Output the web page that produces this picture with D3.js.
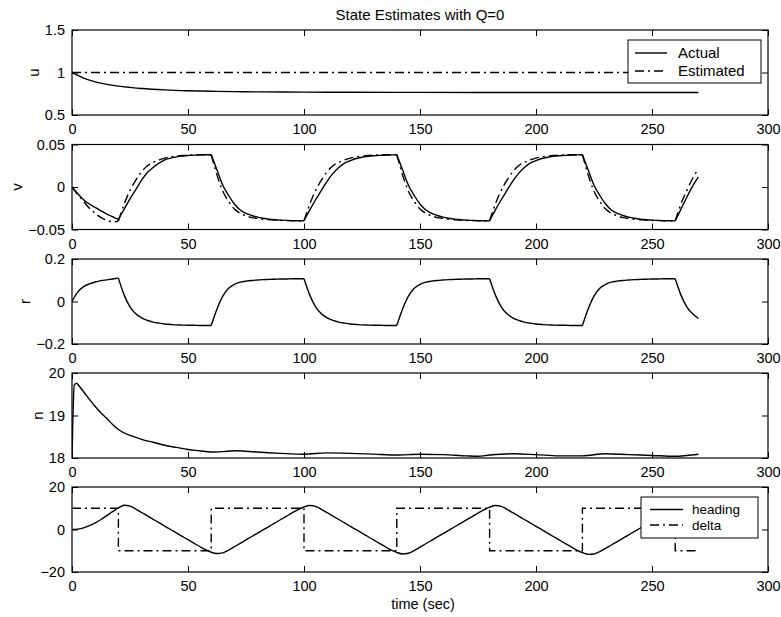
<!DOCTYPE html>
<html><head><meta charset="utf-8">
<script src="https://cdn.jsdelivr.net/npm/d3@7"></script>
<style>
body{margin:0;background:#fff}
svg{display:block}
text{font-family:"Liberation Sans",Arial,Helvetica,sans-serif;fill:#000}
</style>
</head><body>
<svg id="c" width="781" height="617"></svg>
<script>
// ---------------- DATA ----------------
const title = "State Estimates with Q=0";
const xLabel = "time (sec)";
const xTicks = [0, 50, 100, 150, 200, 250, 300];
const switchTimes = [20, 60, 100, 140, 180, 220, 260];

const timeGrid = [0,2.5,5,7.5,10,12.5,15,17.5,20,22.5,25,27.5,30,32.5,35,37.5,40,42.5,45,47.5,50,52.5,55,57.5,60,62.5,65,67.5,70,72.5,75,77.5,80,82.5,85,87.5,90,92.5,95,97.5,100,102.5,105,107.5,110,112.5,115,117.5,120,122.5,125,127.5,130,132.5,135,137.5,140,142.5,145,147.5,150,152.5,155,157.5,160,162.5,165,167.5,170,172.5,175,177.5,180,182.5,185,187.5,190,192.5,195,197.5,200,202.5,205,207.5,210,212.5,215,217.5,220,222.5,225,227.5,230,232.5,235,237.5,240,242.5,245,247.5,250,252.5,255,257.5,260,262.5,265,267.5,270];

// u panel
const uTime = [0,2.5,5,7.5,10,15,20,25,30,40,50,60,70,80,100,120,150,200,250,270];
const uActual = [1.0,0.965,0.935,0.91,0.89,0.86,0.84,0.825,0.812,0.795,0.785,0.779,0.775,0.772,0.769,0.767,0.766,0.765,0.765,0.765];
const uEstTime = [0, 270];
const uEstimated = [1.0, 1.0];
const uTicks = [0.5, 1, 1.5];
const uTickLabels = ["0.5", "1", "1.5"];

// v panel (timeGrid)
const vActual = [
 0,-0.008,-0.015,-0.020,-0.024,-0.028,-0.032,-0.035,-0.038,
 -0.026,-0.014,-0.003,0.008,0.017,0.023,0.028,0.032,0.034,0.0355,0.0365,0.037,0.0375,0.0378,0.038,0.038,
 0.020,0.002,-0.010,-0.020,-0.027,-0.031,-0.0335,-0.0355,-0.0368,-0.0378,-0.0385,-0.039,-0.0393,-0.0395,-0.0397,-0.0398,
 -0.027,-0.015,-0.004,0.007,0.016,0.023,0.028,0.031,0.0335,0.035,0.036,0.0367,0.0372,0.0375,0.0378,0.038,
 0.020,0.002,-0.010,-0.020,-0.027,-0.031,-0.0335,-0.0355,-0.0368,-0.0378,-0.0385,-0.039,-0.0393,-0.0395,-0.0397,-0.0398,
 -0.027,-0.015,-0.004,0.007,0.016,0.023,0.028,0.031,0.0335,0.035,0.036,0.0367,0.0372,0.0375,0.0378,0.038,
 0.020,0.002,-0.010,-0.020,-0.027,-0.031,-0.0335,-0.0355,-0.0368,-0.0378,-0.0385,-0.039,-0.0393,-0.0395,-0.0397,-0.0398,
 -0.026,-0.012,0.001,0.012];
const vEstimated = [
 0,-0.009,-0.017,-0.025,-0.031,-0.036,-0.039,-0.041,-0.040,
 -0.020,-0.004,0.008,0.018,0.025,0.029,0.032,0.034,0.0355,0.0365,0.037,0.0375,0.0378,0.038,0.038,0.038,
 0.014,-0.005,-0.017,-0.026,-0.031,-0.034,-0.036,-0.037,-0.038,-0.0385,-0.039,-0.0393,-0.0395,-0.0397,-0.0398,-0.0398,
 -0.020,-0.004,0.008,0.018,0.025,0.029,0.032,0.034,0.0355,0.0365,0.037,0.0375,0.0378,0.038,0.038,0.038,
 0.014,-0.005,-0.017,-0.026,-0.031,-0.034,-0.036,-0.037,-0.038,-0.0385,-0.039,-0.0393,-0.0395,-0.0397,-0.0398,-0.0398,
 -0.020,-0.004,0.008,0.018,0.025,0.029,0.032,0.034,0.0355,0.0365,0.037,0.0375,0.0378,0.038,0.038,0.038,
 0.014,-0.005,-0.017,-0.026,-0.031,-0.034,-0.036,-0.037,-0.038,-0.0385,-0.039,-0.0393,-0.0395,-0.0397,-0.0398,-0.0398,
 -0.020,-0.004,0.010,0.021];
const vTicks = [-0.05, 0, 0.05];
const vTickLabels = ["\u22120.05", "0", "0.05"];

// r panel (timeGrid)
const rActual = [
 0,0.045,0.07,0.083,0.092,0.098,0.102,0.106,0.110,
 0.03,-0.025,-0.058,-0.077,-0.089,-0.097,-0.102,-0.106,-0.108,-0.110,-0.111,-0.112,-0.112,-0.113,-0.113,-0.113,
 -0.035,0.025,0.062,0.081,0.091,0.096,0.099,0.101,0.103,0.104,0.105,0.106,0.106,0.107,0.107,0.107,
 0.03,-0.025,-0.058,-0.077,-0.089,-0.097,-0.102,-0.106,-0.108,-0.110,-0.111,-0.112,-0.112,-0.113,-0.113,-0.113,
 -0.035,0.025,0.062,0.081,0.091,0.096,0.099,0.101,0.103,0.104,0.105,0.106,0.106,0.107,0.107,0.107,
 0.03,-0.025,-0.058,-0.077,-0.089,-0.097,-0.102,-0.106,-0.108,-0.110,-0.111,-0.112,-0.112,-0.113,-0.113,-0.113,
 -0.035,0.025,0.062,0.081,0.091,0.096,0.099,0.101,0.103,0.104,0.105,0.106,0.106,0.107,0.107,0.107,
 0.03,-0.025,-0.058,-0.080];
const rTicks = [-0.2, 0, 0.2];
const rTickLabels = ["\u22120.2", "0", "0.2"];

// n panel
const nTime = [0,1,2,3,5,7.5,10,12.5,15,17.5,20,25,30,35,40,45,50,55,60,65,70,75,80,90,100,110,120,130,140,150,160,170,175,180,190,200,210,220,230,240,250,260,265,270];
const nActual = [18.0,19.72,19.76,19.70,19.56,19.38,19.21,19.06,18.93,18.79,18.67,18.53,18.44,18.37,18.30,18.25,18.20,18.17,18.14,18.15,18.17,18.16,18.14,18.11,18.09,18.12,18.11,18.09,18.07,18.09,18.08,18.05,18.04,18.07,18.10,18.08,18.05,18.05,18.10,18.08,18.06,18.04,18.06,18.09];
const nTicks = [18, 19, 20];
const nTickLabels = ["18", "19", "20"];

// heading / delta panel
const heading = [
 0,0.2,0.8,1.8,3.1,4.7,6.5,8.4,10.2,
 11.4,11.0,9.6,8.0,6.4,4.8,3.2,1.6,0,-1.6,-3.2,-4.8,-6.4,-8.0,-9.5,-10.7,
 -11.3,-11.0,-9.7,-8.1,-6.5,-4.9,-3.3,-1.7,-0.1,1.5,3.1,4.7,6.3,7.9,9.4,10.6,
 11.3,10.9,9.5,7.9,6.3,4.7,3.1,1.5,-0.1,-1.7,-3.3,-4.9,-6.5,-8.1,-9.6,-10.8,
 -11.5,-11.2,-9.9,-8.3,-6.7,-5.1,-3.5,-1.9,-0.3,1.3,2.9,4.5,6.1,7.7,9.2,10.5,
 11.3,10.9,9.5,7.9,6.3,4.7,3.1,1.5,-0.1,-1.7,-3.3,-4.9,-6.5,-8.1,-9.7,-10.9,
 -11.7,-11.5,-10.4,-8.9,-7.3,-5.7,-4.1,-2.5,-0.9,0.7,2.3,3.9,5.5,7.1,8.7,10.1,
 11.1,11.0,9.8,8.3];
const deltaTime = [0, 20, 60, 100, 140, 180, 220, 260, 270];
const delta = [10, -10, 10, -10, 10, -10, 10, -10, -10];
const hTicks = [-20, 0, 20];
const hTickLabels = ["\u221220", "0", "20"];

// ---------------- CHART ----------------
const svg = d3.select("#c");
const x = d3.scaleLinear().domain([0, 300]).range([72, 768]);
const tops = [30, 144.5, 259, 373, 487];
const PH = 85;
const DASHDOT = "9,4,2,4";

function zip(ts, vs) { return ts.map((t, i) => [t, vs[i]]); }
function splitAt(pts, breaks) {
  const segs = []; let cur = [];
  pts.forEach(p => {
    cur.push(p);
    if (breaks.includes(p[0]) && cur.length > 1) { segs.push(cur); cur = [p]; }
  });
  if (cur.length > 1) segs.push(cur);
  return segs;
}

const panels = [
  { label: "u", domain: [0.5, 1.5], ticks: uTicks, tickLabels: uTickLabels,
    series: [
      { pts: zip(uTime, uActual), dash: null, curve: d3.curveMonotoneX, breaks: [] },
      { pts: zip(uEstTime, uEstimated), dash: DASHDOT, curve: d3.curveLinear, breaks: [] }
    ],
    legend: { x: 628, y: 40, w: 133, h: 43, fs: "15px", rows: [["Actual", null, 53], ["Estimated", DASHDOT, 71]], lx0: 635, lx1: 667, tx: 678 } },
  { label: "v", domain: [-0.05, 0.05], ticks: vTicks, tickLabels: vTickLabels,
    series: [
      { pts: zip(timeGrid, vActual), dash: null, curve: d3.curveMonotoneX, breaks: switchTimes },
      { pts: zip(timeGrid, vEstimated), dash: DASHDOT, curve: d3.curveMonotoneX, breaks: switchTimes }
    ] },
  { label: "r", domain: [-0.2, 0.2], ticks: rTicks, tickLabels: rTickLabels,
    series: [
      { pts: zip(timeGrid, rActual), dash: null, curve: d3.curveMonotoneX, breaks: switchTimes }
    ] },
  { label: "n", domain: [18, 20], ticks: nTicks, tickLabels: nTickLabels,
    series: [
      { pts: zip(nTime, nActual), dash: null, curve: d3.curveMonotoneX, breaks: [] }
    ] },
  { label: null, domain: [-20, 20], ticks: hTicks, tickLabels: hTickLabels,
    series: [
      { pts: zip(timeGrid, heading), dash: null, curve: d3.curveMonotoneX, breaks: [] },
      { pts: zip(deltaTime, delta), dash: DASHDOT, curve: d3.curveStepAfter, breaks: [] }
    ],
    legend: { x: 641, y: 497, w: 117, h: 41, fs: "13.5px", rows: [["heading", null, 509.5], ["delta", DASHDOT, 525]], lx0: 650, lx1: 683, tx: 692 } }
];

panels.forEach((p, i) => {
  const top = tops[i], bot = top + PH;
  const y = d3.scaleLinear().domain(p.domain).range([bot, top]);
  const g = svg.append("g");

  const clipId = "clip" + i;
  svg.append("defs").append("clipPath").attr("id", clipId)
    .append("rect").attr("x", x(0)).attr("y", top).attr("width", x(300) - x(0)).attr("height", PH);
  const dg = g.append("g").attr("clip-path", `url(#${clipId})`);
  p.series.forEach(s => {
    const line = d3.line().x(d => x(d[0])).y(d => y(d[1])).curve(s.curve);
    splitAt(s.pts, s.breaks).forEach(seg => {
      dg.append("path").attr("d", line(seg)).attr("fill", "none")
        .attr("stroke", "#000").attr("stroke-width", 1.4)
        .attr("stroke-dasharray", s.dash);
    });
  });

  const fs = "14.5px";
  g.append("g").attr("transform", `translate(0,${bot})`)
    .call(d3.axisBottom(x).tickValues(xTicks).tickSizeInner(-6).tickSizeOuter(0).tickPadding(9));
  g.append("g").attr("transform", `translate(0,${top})`)
    .call(d3.axisTop(x).tickValues(xTicks).tickSizeInner(-6).tickSizeOuter(0).tickFormat(""));
  const al = g.append("g").attr("transform", `translate(${x(0)},0)`)
    .call(d3.axisLeft(y).tickValues(p.ticks).tickSizeInner(-6).tickSizeOuter(0).tickPadding(7)
      .tickFormat((d, k) => p.tickLabels[k]));
  g.append("g").attr("transform", `translate(${x(300)},0)`)
    .call(d3.axisRight(y).tickValues(p.ticks).tickSizeInner(-6).tickSizeOuter(0).tickFormat(""));
  g.selectAll(".domain").remove();
  g.selectAll(".tick line").attr("stroke", "#000").attr("stroke-width", 1);
  g.selectAll(".tick text").attr("font-size", fs).attr("font-family", null).attr("fill", "#000");
  g.selectAll("g").attr("font-family", null);

  g.append("rect").attr("x", x(0)).attr("y", top).attr("width", x(300) - x(0)).attr("height", PH)
    .attr("fill", "none").attr("stroke", "#000").attr("stroke-width", 1.2);

  if (p.label) {
    const bb = al.node().getBBox();
    const lx = x(0) + bb.x - 6;
    g.append("text").attr("transform", `translate(${lx},${(top + bot) / 2}) rotate(-90)`)
      .attr("text-anchor", "middle").attr("font-size", "15px").text(p.label);
  }

  if (p.legend) {
    const L = p.legend;
    g.append("rect").attr("x", L.x).attr("y", L.y).attr("width", L.w).attr("height", L.h)
      .attr("fill", "#fff").attr("stroke", "#000").attr("stroke-width", 1);
    L.rows.forEach(r => {
      g.append("line").attr("x1", L.lx0).attr("x2", L.lx1).attr("y1", r[2]).attr("y2", r[2])
        .attr("stroke", "#000").attr("stroke-width", 1.4).attr("stroke-dasharray", r[1]);
      g.append("text").attr("x", L.tx).attr("y", r[2]).attr("dy", "0.35em")
        .attr("font-size", L.fs).text(r[0]);
    });
  }
});

svg.append("text").attr("x", 420).attr("y", 20).attr("text-anchor", "middle")
  .attr("font-size", "15px").text(title);
svg.append("text").attr("x", 423).attr("y", 609).attr("text-anchor", "middle")
  .attr("font-size", "14.5px").text(xLabel);
</script>
</body></html>
